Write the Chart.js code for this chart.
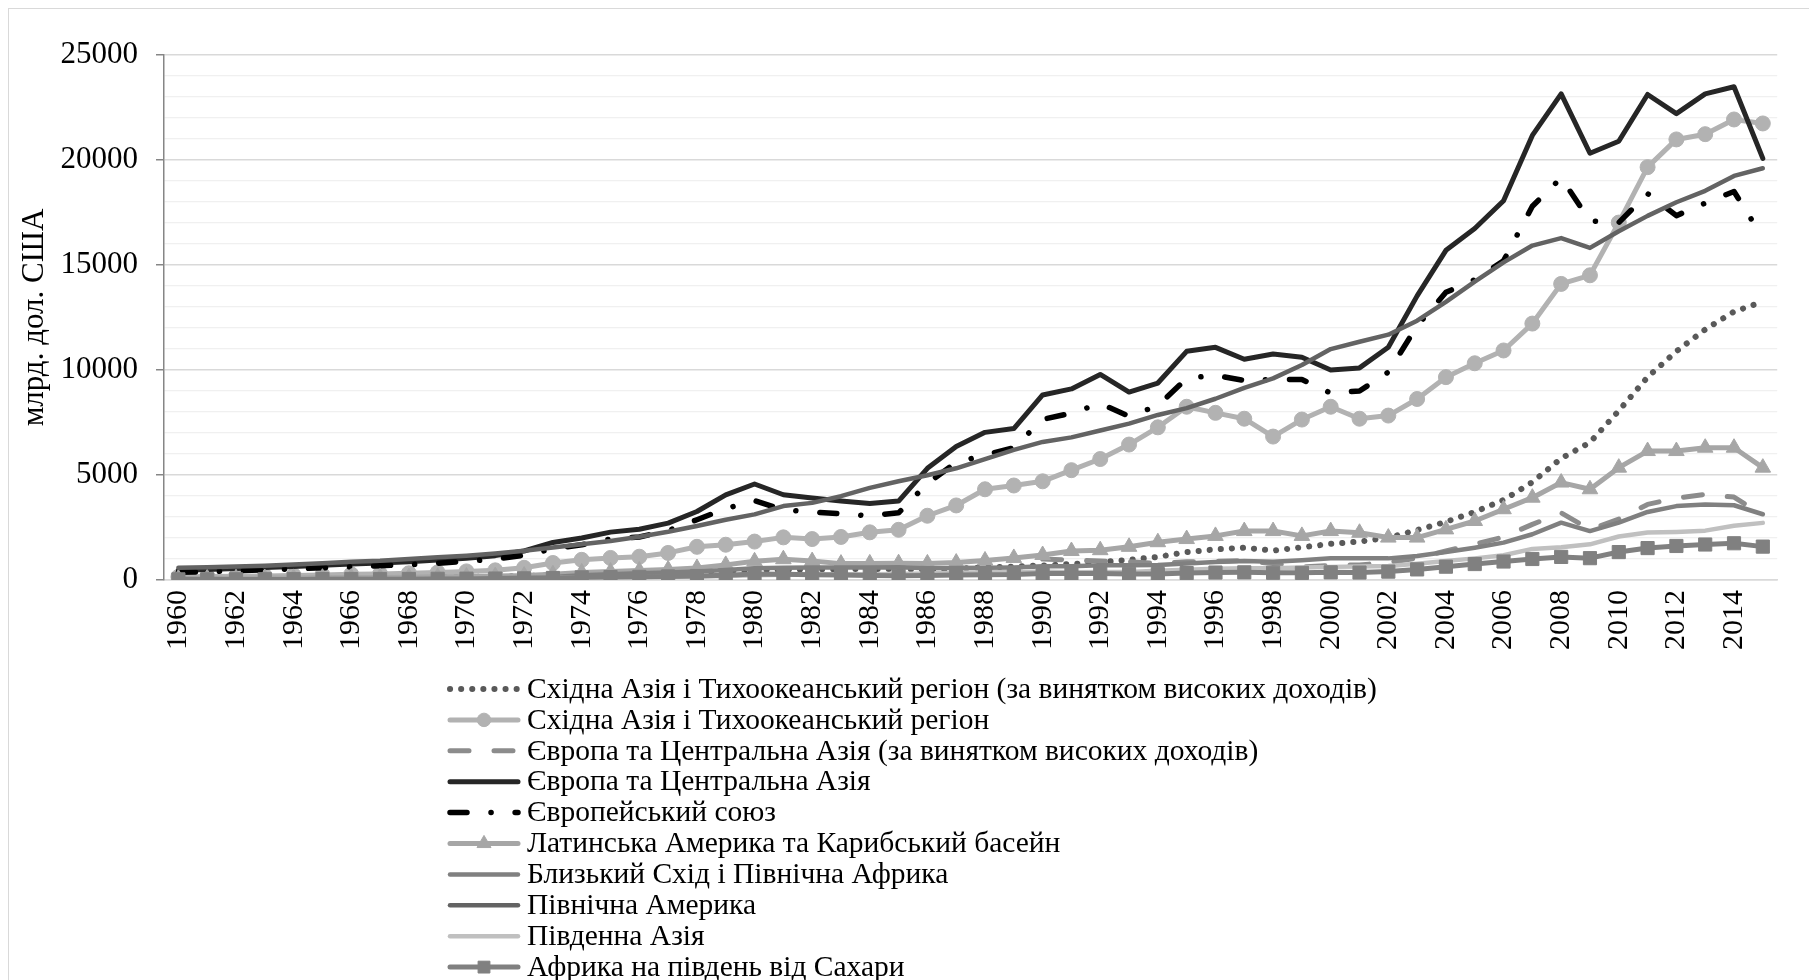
<!DOCTYPE html>
<html>
<head>
<meta charset="utf-8">
<script src="https://cdn.jsdelivr.net/npm/chart.js@4.4.1/dist/chart.umd.min.js"></script>
<style>
    html, body { margin: 0; padding: 0; background: #fff; overflow: hidden; }
    #frame { position: absolute; left: 8px; top: 8px; width: 1900px; height: 1100px; border: 1px solid #d9d9d9; }
    #gdpChart { position: absolute; left: 0; top: 0; }
</style>
</head>
<body>
<div id="frame"></div>
<canvas id="gdpChart" width="1809" height="980"></canvas>
<script>
const FONT = "'Liberation Serif', 'Times New Roman', serif";

const years = [
    '1960', '1961', '1962', '1963', '1964', '1965', '1966', '1967', '1968', '1969',
    '1970', '1971', '1972', '1973', '1974', '1975', '1976', '1977', '1978', '1979',
    '1980', '1981', '1982', '1983', '1984', '1985', '1986', '1987', '1988', '1989',
    '1990', '1991', '1992', '1993', '1994', '1995', '1996', '1997', '1998', '1999',
    '2000', '2001', '2002', '2003', '2004', '2005', '2006', '2007', '2008', '2009',
    '2010', '2011', '2012', '2013', '2014', '2015'
];

// млрд. дол. США
const eastAsiaExHigh = [
    95, 80, 78, 85, 95, 105, 115, 115, 120, 135,
    150, 165, 185, 230, 270, 295, 310, 350, 380, 430,
    480, 500, 510, 520, 530, 520, 500, 530, 600, 640,
    690, 760, 850, 960, 1100, 1330, 1460, 1540, 1400, 1560,
    1720, 1830, 2010, 2380, 2770, 3240, 3810, 4660, 5790, 6550,
    8060, 9660, 10890, 11930, 12780, 13250
];
const eastAsia = [
    150, 165, 175, 195, 220, 240, 270, 290, 320, 360,
    410, 460, 580, 810, 960, 1050, 1110, 1290, 1580, 1680,
    1830, 2030, 1950, 2050, 2270, 2390, 3060, 3550, 4320, 4500,
    4700, 5230, 5760, 6450, 7270, 8250, 7960, 7680, 6830, 7640,
    8250, 7680, 7830, 8620, 9660, 10320, 10930, 12210, 14100, 14510,
    17020, 19660, 20980, 21230, 21930, 21740
];
const europeExHigh = [
    null, null, null, null, null, null, null, null, null, null,
    null, null, null, null, null, null, null, null, null, null,
    null, null, null, null, null, null, null, null, null, null,
    1000, 950, 900, 880, 780, 870, 890, 920, 780, 620,
    700, 720, 830, 1050, 1380, 1700, 2050, 2650, 3200, 2400,
    2900, 3600, 3900, 4080, 3950, 3080
];
const europeCentralAsia = [
    470, 500, 545, 590, 645, 700, 760, 815, 870, 950,
    1040, 1160, 1380, 1790, 2000, 2280, 2420, 2710, 3260, 4050,
    4570, 4060, 3910, 3760, 3640, 3760, 5320, 6360, 7030, 7210,
    8810, 9100, 9790, 8950, 9380, 10890, 11080, 10510, 10760, 10610,
    10000, 10100, 11080, 13530, 15700, 16740, 18060, 21170, 23150, 20320,
    20890, 23120, 22210, 23150, 23490, 20080
];
const europeanUnion = [
    365, 395, 435, 480, 530, 580, 630, 680, 730, 800,
    890, 990, 1180, 1480, 1680, 1950, 2050, 2350, 2870, 3400,
    3780, 3340, 3240, 3150, 3060, 3200, 4600, 5600, 5950, 6300,
    7650, 7950, 8400, 7800, 8300, 9600, 9750, 9500, 9550, 9550,
    8900, 9000, 9900, 12100, 13700, 14300, 15200, 17800, 19150, 17100,
    17020, 18400, 17350, 17950, 18500, 16300
];
const latinAmerica = [
    75, 80, 85, 90, 100, 110, 120, 125, 135, 150,
    165, 185, 210, 270, 360, 400, 450, 500, 570, 720,
    890, 990, 900, 780, 790, 800, 790, 830, 930, 1050,
    1190, 1380, 1420, 1580, 1800, 1950, 2100, 2330, 2330, 2100,
    2330, 2250, 2020, 2020, 2410, 2810, 3370, 3920, 4640, 4320,
    5350, 6140, 6140, 6300, 6300, 5350
];
const middleEast = [
    30, 32, 35, 38, 42, 46, 50, 54, 60, 66,
    75, 90, 105, 140, 230, 270, 320, 360, 400, 480,
    560, 580, 590, 600, 600, 610, 560, 570, 580, 600,
    650, 660, 700, 700, 720, 790, 860, 900, 870, 940,
    1030, 1030, 1030, 1140, 1330, 1540, 1780, 2180, 2730, 2330,
    2730, 3240, 3520, 3600, 3560, 3130
];
const northAmerica = [
    584, 603, 646, 680, 733, 793, 868, 917, 1000, 1082,
    1160, 1262, 1392, 1552, 1707, 1853, 2060, 2297, 2575, 2872,
    3125, 3519, 3673, 3991, 4389, 4700, 4987, 5320, 5760, 6198,
    6575, 6791, 7119, 7446, 7859, 8187, 8631, 9151, 9601, 10235,
    10996, 11345, 11683, 12349, 13248, 14210, 15126, 15926, 16280, 15815,
    16606, 17340, 17988, 18534, 19242, 19605
];
const southAsia = [
    48, 51, 54, 60, 67, 73, 64, 72, 75, 81,
    86, 91, 93, 106, 124, 133, 132, 150, 170, 190,
    230, 250, 260, 275, 270, 290, 305, 340, 370, 370,
    410, 365, 380, 385, 440, 490, 530, 560, 565, 600,
    625, 640, 670, 770, 900, 1030, 1180, 1480, 1560, 1700,
    2070, 2260, 2290, 2350, 2580, 2720
];
const subSaharan = [
    31, 32, 34, 38, 40, 44, 47, 49, 52, 58,
    64, 70, 78, 98, 125, 140, 150, 170, 190, 225,
    280, 270, 250, 235, 210, 200, 215, 240, 255, 260,
    310, 310, 315, 290, 280, 330, 355, 365, 345, 340,
    365, 355, 400, 505, 635, 760, 880, 1000, 1100, 1040,
    1330, 1520, 1620, 1690, 1750, 1590
];

const seriesNames = [
    'Східна Азія і Тихоокеанський регіон (за винятком високих доходів)',
    'Східна Азія і Тихоокеанський регіон',
    'Європа та Центральна Азія (за винятком високих доходів)',
    'Європа та Центральна Азія',
    'Європейський союз',
    'Латинська Америка та Карибський басейн',
    'Близький Схід і Північна Африка',
    'Північна Америка',
    'Південна Азія',
    'Африка на південь від Сахари'
];

function series(i, data, color, extra) {
    return Object.assign({
        label: seriesNames[i],
        data: data,
        borderColor: color,
        backgroundColor: color,
        pointBackgroundColor: color,
        pointBorderColor: color,
        borderWidth: 4.5,
        pointRadius: 0,
        pointBorderWidth: 1,
        borderCapStyle: 'round',
        borderJoinStyle: 'round',
        tension: 0,
        fill: false,
        spanGaps: false,
        order: 10 - i // Excel draws later series on top
    }, extra || {});
}

const datasets = [
    series(0, eastAsiaExHigh, '#595959', { borderDash: [0.1, 11], borderWidth: 6 }),
    series(1, eastAsia, '#b2b2b2', { pointStyle: 'circle', pointRadius: 7.5, borderWidth: 5 }),
    series(2, europeExHigh, '#8c8c8c', { borderDash: [19, 25], borderWidth: 5 }),
    series(3, europeCentralAsia, '#262626', { borderWidth: 5 }),
    series(4, europeanUnion, '#000000', { borderDash: [17, 24, 0.1, 24], borderWidth: 5.5 }),
    series(5, latinAmerica, '#a6a6a6', { pointStyle: 'triangle', pointRadius: 9, borderWidth: 5 }),
    series(6, middleEast, '#808080', { borderWidth: 4.5 }),
    series(7, northAmerica, '#636363', { borderWidth: 4.5 }),
    series(8, southAsia, '#c0c0c0', { borderWidth: 4.5 }),
    series(9, subSaharan, '#808080', { pointStyle: 'rect', pointRadius: 9.3, borderWidth: 5 })
];

// vertical legend under the axis, Excel style
const listLegend = {
    id: 'listLegend',
    afterDraw(chart) {
        const ctx = chart.ctx;
        const x0 = 450, x1 = 518, textX = 527, y0 = 689, step = 30.9;
        ctx.save();
        chart.data.datasets.forEach((ds, i) => {
            const y = y0 + i * step;
            ctx.save();
            ctx.strokeStyle = ds.borderColor;
            ctx.lineWidth = ds.borderWidth;
            ctx.lineCap = ds.borderCapStyle;
            ctx.setLineDash(ds.borderDash || []);
            ctx.beginPath();
            ctx.moveTo(x0, y);
            ctx.lineTo(x1, y);
            ctx.stroke();
            ctx.restore();
            if (ds.pointRadius > 0) {
                ctx.save();
                ctx.fillStyle = ds.borderColor;
                ctx.strokeStyle = ds.borderColor;
                ctx.lineWidth = 1;
                Chart.helpers.drawPoint(ctx, {
                    pointStyle: ds.pointStyle,
                    radius: ds.pointRadius * 0.9,
                    borderWidth: 1,
                    rotation: 0
                }, (x0 + x1) / 2, y);
                ctx.restore();
            }
            ctx.fillStyle = '#000';
            ctx.font = '29.5px ' + FONT;
            ctx.textBaseline = 'middle';
            ctx.textAlign = 'left';
            ctx.fillText(ds.label, textX, y + 1);
        });
        ctx.restore();
    }
};

new Chart(document.getElementById('gdpChart').getContext('2d'), {
    type: 'line',
    data: { labels: years, datasets: datasets },
    options: {
        responsive: false,
        animation: false,
        events: [],
        layout: { padding: { left: 8, right: 21, top: 55, bottom: 320 } },
        plugins: {
            legend: { display: false },
            tooltip: { enabled: false }
        },
        scales: {
            x: {
                offset: true,
                grid: { display: false, drawTicks: false },
                border: { color: '#d9d9d9', width: 1.5 },
                ticks: {
                    color: '#000',
                    font: { family: FONT, size: 30 },
                    autoSkip: false,
                    minRotation: 90,
                    maxRotation: 90,
                    padding: 10,
                    callback: (val, i) => (i % 2 === 0 ? years[i] : '')
                },
                afterFit: (scale) => { scale.height = 80; }
            },
            y: {
                min: 0,
                max: 25000,
                grid: {
                    color: (c) => (c.tick.value % 5000 === 0 ? '#d9d9d9' : '#f0f0f0'),
                    lineWidth: (c) => (c.tick.value % 5000 === 0 ? 1.5 : 1.2),
                    tickColor: (c) => (c.tick.value % 5000 === 0 ? '#868686' : 'rgba(0,0,0,0)'),
                    tickLength: 8
                },
                border: { color: '#868686', width: 1.5 },
                ticks: {
                    stepSize: 1000,
                    autoSkip: false,
                    color: '#000',
                    font: { family: FONT, size: 31 },
                    padding: 18,
                    callback: (v) => (v % 5000 === 0 ? v : '')
                },
                title: {
                    display: true,
                    text: 'млрд. дол. США',
                    color: '#000',
                    font: { family: FONT, size: 31 },
                    padding: { top: 8, bottom: 0 }
                },
                afterFit: (scale) => { scale.width = 156; }
            }
        }
    },
    plugins: [listLegend]
});
</script>
</body>
</html>
